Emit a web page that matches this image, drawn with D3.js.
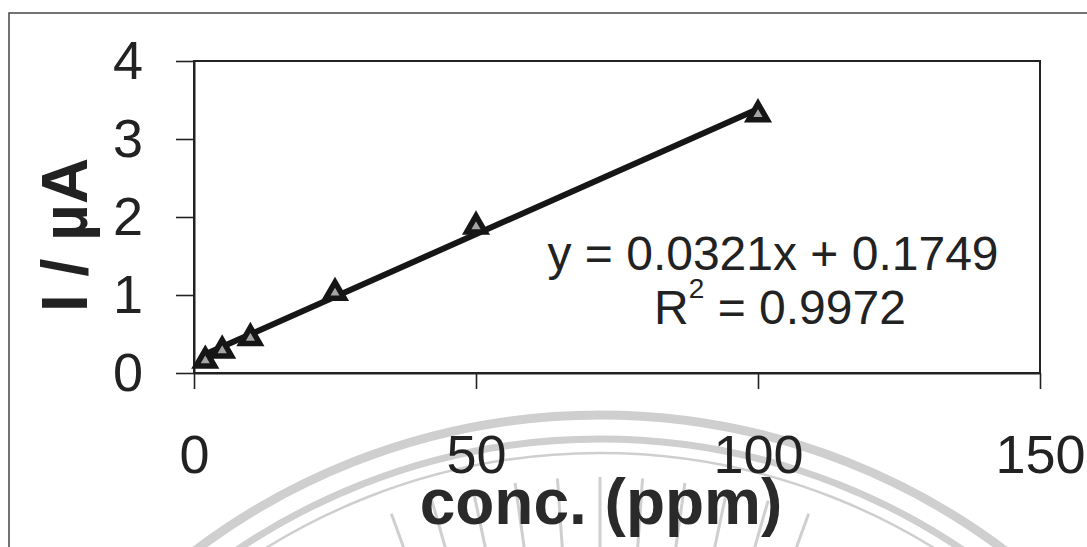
<!DOCTYPE html>
<html>
<head>
<meta charset="utf-8">
<script src="https://cdn.jsdelivr.net/npm/d3@7"></script>
<style>
  html, body { margin: 0; padding: 0; background: #fff; }
  svg { display: block; font-family: "Liberation Sans", Arial, sans-serif; }
</style>
</head>
<body>
<div id="chart"></div>
<script>
// calibration points
const concentrations = [2, 5, 10, 25, 50, 100];
const currents = [0.17, 0.30, 0.46, 1.04, 1.89, 3.33];
const xTicks = [0, 50, 100, 150];
const yTicks = [0, 1, 2, 3, 4];
// linear trendline as printed on the chart
const slope = 0.0321;
const intercept = 0.1749;
const rSquared = '0.9972';

const svgWidth = 1087;
const svgHeight = 547;
const margin = { top: 61, right: 47, bottom: 174, left: 194 };
const width = svgWidth - margin.left - margin.right;
const height = svgHeight - margin.top - margin.bottom;
const ink = '#222';

const svg = d3.select('#chart')
    .append('svg')
    .attr('width', svgWidth)
    .attr('height', svgHeight);

svg.append('rect')
    .attr('width', svgWidth)
    .attr('height', svgHeight)
    .attr('fill', '#fff');

// faint seal watermark at the bottom of the scan
const seal = svg.append('g')
    .attr('class', 'watermark')
    .attr('fill', 'none')
    .attr('stroke', '#cfcfcf');

const sealCenter = [600, 1087];
[[672, 9], [648, 7], [634, 2.5]].forEach(([r, w]) => {
    seal.append('circle')
        .attr('cx', sealCenter[0])
        .attr('cy', sealCenter[1])
        .attr('r', r)
        .attr('stroke-width', w);
});

d3.range(-20, 21, 4).forEach(deg => {
    const a = (deg - 90) * Math.PI / 180;
    seal.append('line')
        .attr('x1', sealCenter[0] + Math.cos(a) * 540)
        .attr('y1', sealCenter[1] + Math.sin(a) * 540)
        .attr('x2', sealCenter[0] + Math.cos(a) * 610)
        .attr('y2', sealCenter[1] + Math.sin(a) * 610)
        .attr('stroke-width', 3);
});

// outer chart frame (right and bottom edges fall outside the picture)
svg.append('path')
    .attr('d', `M9,${svgHeight} V13 H${svgWidth}`)
    .attr('fill', 'none')
    .attr('stroke', '#444')
    .attr('stroke-width', 1.5);

const bounds = svg.append('g')
    .attr('transform', `translate(${margin.left}, ${margin.top})`);

const xScale = d3.scaleLinear()
    .domain([0, 150])
    .range([0, width]);

const yScale = d3.scaleLinear()
    .domain([0, 4])
    .range([height, 0]);

// plot area border
bounds.append('rect')
    .attr('x', 0)
    .attr('y', 0)
    .attr('width', width)
    .attr('height', height)
    .attr('fill', 'none')
    .attr('stroke', ink)
    .attr('stroke-width', 2);

const xAxisGroup = bounds.append('g')
    .attr('class', 'x axis')
    .attr('transform', `translate(0, ${height})`)
    .call(d3.axisBottom(xScale)
        .tickValues(xTicks)
        .tickSize(16)
        .tickSizeOuter(0)
        .tickFormat(d => d));

xAxisGroup.selectAll('text')
    .attr('y', 100)
    .attr('dy', 0)
    .attr('font-size', 54)
    .attr('fill', ink);

const yAxisGroup = bounds.append('g')
    .attr('class', 'y axis')
    .call(d3.axisLeft(yScale)
        .tickValues(yTicks)
        .tickSize(18)
        .tickSizeOuter(0)
        .tickPadding(33)
        .tickFormat(d => d));

yAxisGroup.selectAll('text')
    .attr('font-size', 54)
    .attr('fill', ink);

bounds.selectAll('.axis path.domain')
    .attr('stroke', ink)
    .attr('stroke-width', 2);

bounds.selectAll('.axis line')
    .attr('stroke', ink)
    .attr('stroke-width', 1.6);

// trendline across the measured range
const trend = d3.extent(concentrations).map(c => ({ x: c, y: slope * c + intercept }));

const lineGenerator = d3.line()
    .x(d => xScale(d.x))
    .y(d => yScale(d.y));

bounds.append('path')
    .attr('class', 'trendline')
    .attr('d', lineGenerator(trend))
    .attr('fill', 'none')
    .attr('stroke', '#161616')
    .attr('stroke-width', 6)
    .attr('stroke-linecap', 'round');

const triangle = d3.symbol(d3.symbolTriangle, 150);

bounds.selectAll('.point')
    .data(concentrations)
    .enter()
    .append('path')
    .attr('class', 'point')
    .attr('d', triangle)
    .attr('transform', (d, i) => `translate(${xScale(d)}, ${yScale(currents[i]) + 1})`)
    .attr('fill', '#a5a5a5')
    .attr('stroke', '#161616')
    .attr('stroke-width', 5.5)
    .attr('stroke-linejoin', 'miter');

// regression label
bounds.append('text')
    .attr('x', 773 - margin.left)
    .attr('y', 270 - margin.top)
    .attr('text-anchor', 'middle')
    .attr('font-size', 48)
    .attr('fill', ink)
    .text(`y = ${slope}x + ${intercept}`);

const r2 = bounds.append('text')
    .attr('x', 780 - margin.left)
    .attr('y', 324 - margin.top)
    .attr('text-anchor', 'middle')
    .attr('font-size', 48)
    .attr('fill', ink);
r2.append('tspan').text('R');
r2.append('tspan').attr('font-size', 28).attr('dy', -26).text('2');
r2.append('tspan').attr('dy', 26).text(` = ${rSquared}`);

// axis titles
svg.append('text')
    .attr('transform', 'translate(87, 235) rotate(-90)')
    .attr('text-anchor', 'middle')
    .attr('font-size', 64)
    .attr('font-weight', 'bold')
    .attr('fill', ink)
    .text('I / µA');

svg.append('text')
    .attr('x', 601)
    .attr('y', 524)
    .attr('text-anchor', 'middle')
    .attr('font-size', 64)
    .attr('font-weight', 'bold')
    .attr('fill', '#2a2a2a')
    .text('conc. (ppm)');
</script>
</body>
</html>
